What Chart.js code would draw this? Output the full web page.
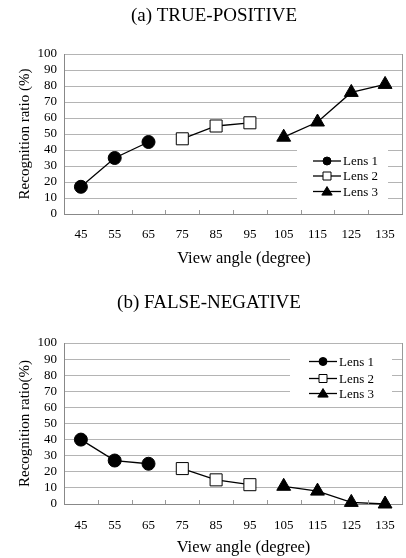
<!DOCTYPE html>
<html>
<head>
<meta charset="utf-8">
<script src="https://cdn.jsdelivr.net/npm/chart.js@4/dist/chart.umd.min.js"></script>
<style>
  html, body { margin: 0; padding: 0; background: #fff; }
  .box { position: absolute; left: 0; width: 406px; height: 279px; }
</style>
</head>
<body>
<div class="box" style="top:0"><canvas id="chart-a"></canvas></div>
<div class="box" style="top:279px"><canvas id="chart-b"></canvas></div>
<script>
// view angles (degree)
var angles = ["45", "55", "65", "75", "85", "95", "105", "115", "125", "135"];
var lensNames = ["Lens 1", "Lens 2", "Lens 3"];

// (a) true-positive recognition ratio (%)
var tpLens1 = [17, 35, 45, null, null, null, null, null, null, null];
var tpLens2 = [null, null, null, 47, 55, 57, null, null, null, null];
var tpLens3 = [null, null, null, null, null, null, 48, 57.5, 76, 81];

// (b) false-negative recognition ratio (%)
var fnLens1 = [40, 27, 25, null, null, null, null, null, null, null];
var fnLens2 = [null, null, null, 22, 15, 12, null, null, null, null];
var fnLens3 = [null, null, null, null, null, null, 11, 8, 1, 0];

var yTicks = [0, 10, 20, 30, 40, 50, 60, 70, 80, 90, 100];
var xTitle = "View angle (degree)";

const SERIF = "'Liberation Serif', 'DejaVu Serif', serif";
const markers = [
    {style: 'circle', radius: 6.5, fill: '#000'},
    {style: 'rect', radius: 8.5, fill: '#fff'},
    {style: 'triangle', radius: 8, fill: '#000'}
];

function drawMark(ctx, style, x, y, size, fill){
    ctx.save();
    ctx.fillStyle = fill;
    ctx.strokeStyle = '#000';
    ctx.lineWidth = 1;
    ctx.beginPath();
    if(style == 'circle'){
        ctx.arc(x, y, size, 0, Math.PI*2);
    }else if(style == 'rect'){
        ctx.rect(x-size, y-size, size*2, size*2);
    }else{
        ctx.moveTo(x, y-size*1.1);
        ctx.lineTo(x+size*1.15, y+size*0.8);
        ctx.lineTo(x-size*1.15, y+size*0.8);
        ctx.closePath();
    }
    ctx.fill();
    ctx.stroke();
    ctx.restore();
}

// titles, right border, inner x ticks and the legend box inside the plot
const extras = {
    id: 'extras',
    afterDraw(chart, args, opts){
        const ctx = chart.ctx, area = chart.chartArea, xs = chart.scales.x;
        ctx.save();
        ctx.strokeStyle = '#999';
        ctx.lineWidth = 1;
        ctx.beginPath();
        ctx.moveTo(Math.round(area.right)+0.5, area.top);
        ctx.lineTo(Math.round(area.right)+0.5, area.bottom);
        for(let i = 1; i < angles.length; i++){
            const px = Math.round(xs.getPixelForValue(i-0.5))+0.5;
            ctx.moveTo(px, area.bottom);
            ctx.lineTo(px, area.bottom-4);
        }
        ctx.stroke();
        ctx.fillStyle = '#000';
        ctx.textAlign = 'center';
        ctx.textBaseline = 'middle';
        ctx.font = '19px ' + SERIF;
        ctx.fillText(opts.title, opts.titleX, opts.titleY);
        ctx.font = '16.5px ' + SERIF;
        ctx.fillText(xTitle, opts.xTitleX, opts.xTitleY);
        ctx.restore();
    },
    afterDatasetsDraw(chart, args, opts){
        const ctx = chart.ctx, area = chart.chartArea, lg = opts.legend;
        ctx.save();
        ctx.fillStyle = '#fff';
        ctx.fillRect(area.left+lg.x, area.top+lg.y, lg.w, lg.h);
        ctx.font = '13px ' + SERIF;
        ctx.textBaseline = 'middle';
        for(let i = 0; i < lensNames.length; i++){
            const cy = area.top + lg.rows[i];
            const cx = area.left + lg.mark;
            ctx.strokeStyle = '#000';
            ctx.lineWidth = 1.3;
            ctx.beginPath();
            ctx.moveTo(cx-14, cy);
            ctx.lineTo(cx+14, cy);
            ctx.stroke();
            drawMark(ctx, markers[i].style, cx, cy, i == 2 ? 4.5 : 4, markers[i].fill);
            ctx.fillStyle = '#000';
            ctx.fillText(lensNames[i], cx+16, cy+1);
        }
        ctx.restore();
    }
};

function makeDatasets(series){
    return series.map(function(values, i){
        return {
            label: lensNames[i],
            data: values,
            borderColor: '#000',
            borderWidth: 1.3,
            pointStyle: markers[i].style,
            pointRadius: markers[i].radius,
            pointBackgroundColor: markers[i].fill,
            pointBorderColor: '#000',
            pointBorderWidth: 1,
            tension: 0,
            spanGaps: false,
            clip: false
        };
    });
}

function makeChart(id, title, yTitle, series, lay){
    return new Chart(id, {
        type: 'line',
        data: { labels: angles, datasets: makeDatasets(series) },
        plugins: [extras],
        options: {
            responsive: true,
            maintainAspectRatio: false,
            animation: false,
            layout: { autoPadding: false, padding: { left: 0, right: 4, top: lay.top, bottom: 0 } },
            scales: {
                x: {
                    offset: true,
                    grid: { display: true, offset: true, drawOnChartArea: false, drawTicks: true,
                            tickLength: lay.xTick, tickColor: 'rgba(0,0,0,0)' },
                    border: { color: '#888', width: 1 },
                    ticks: { color: '#000', font: { family: SERIF, size: 13 }, padding: 3, maxRotation: 0, autoSkip: false },
                    title: { display: false },
                    afterFit: function(s){ s.height = lay.xHeight; s.paddingLeft = 0; s.paddingRight = 0; }
                },
                y: {
                    min: 0, max: 100,
                    afterBuildTicks: function(s){ s.ticks = yTicks.map(v => ({value: v})); },
                    grid: { color: '#b4b4b4', lineWidth: 1, drawTicks: false },
                    border: { color: '#888', width: 1 },
                    ticks: { color: '#000', font: { family: SERIF, size: 13 }, padding: 7, autoSkip: false, stepSize: 10 },
                    title: {
                        display: true, text: yTitle, color: '#000',
                        font: { family: SERIF, size: 15 }, padding: { top: 16, bottom: 0 }
                    },
                    afterFit: function(s){ s.width = 64; }
                }
            },
            plugins: {
                legend: { display: false },
                tooltip: { enabled: false },
                title: { display: false },
                extras: { legend: lay.legend, title: title, titleX: lay.titleX, titleY: lay.titleY,
                          xTitleX: lay.xTitleX, xTitleY: lay.xTitleY }
            }
        }
    });
}

makeChart('chart-a', '(a) TRUE-POSITIVE', 'Recognition ratio (%)', [tpLens1, tpLens2, tpLens3], {
    top: 54, titleX: 214, titleY: 16, xTick: 10, xHeight: 65, xTitleX: 244, xTitleY: 258.5,
    legend: { x: 233, y: 89, w: 91, h: 62, mark: 263, rows: [107, 122, 137.5] }
});
makeChart('chart-b', '(b) FALSE-NEGATIVE', 'Recognition ratio(%)', [fnLens1, fnLens2, fnLens3], {
    top: 64, titleX: 209, titleY: 24.5, xTick: 11, xHeight: 54, xTitleX: 243.5, xTitleY: 268.5,
    legend: { x: 226, y: 9, w: 102, h: 48, mark: 259, rows: [18.5, 35.5, 50.5] }
});
</script>
</body>
</html>
